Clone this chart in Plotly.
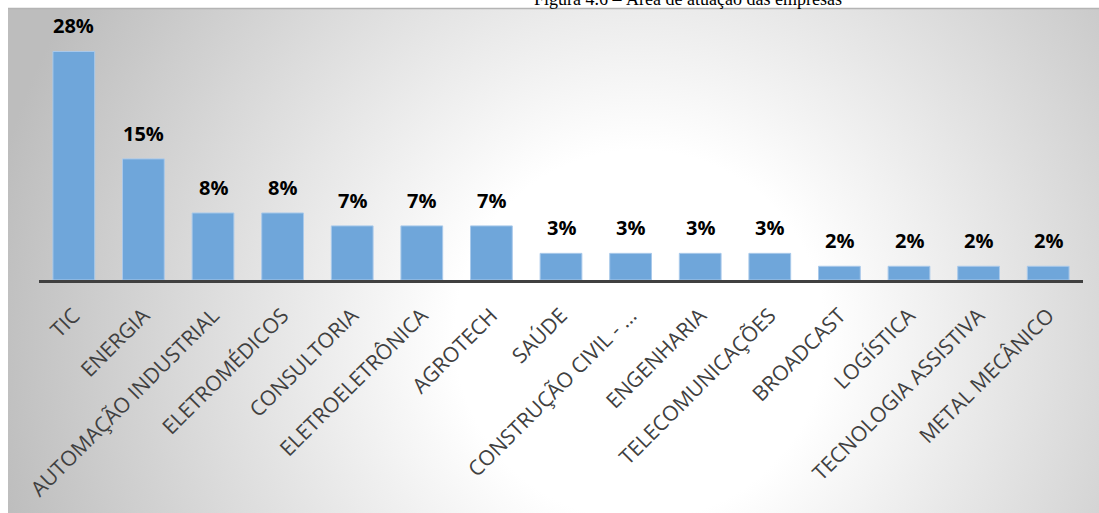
import base64
import plotly.graph_objects as go

# Business areas and share of companies (%)
areas = [
    "TIC", "ENERGIA", "AUTOMAÇÃO INDUSTRIAL", "ELETROMÉDICOS", "CONSULTORIA",
    "ELETROELETRÔNICA", "AGROTECH", "SAÚDE", "CONSTRUÇÃO CIVIL - ...",
    "ENGENHARIA", "TELECOMUNICAÇÕES", "BROADCAST", "LOGÍSTICA",
    "TECNOLOGIA ASSISTIVA", "METAL MECÂNICO",
]
share = [28.3, 15.0, 8.3, 8.3, 6.7, 6.7, 6.7, 3.3, 3.3, 3.3, 3.3, 1.7, 1.7, 1.7, 1.7]
title_text = "Figura 4.6 – Área de atuação das empresas"

W, H = 1099, 513
M_L, M_R, M_T, M_B = 39, 16, 20, 233
plot_w = W - M_L - M_R
plot_h = H - M_T - M_B
y_max = 32.2


def px_to_paper_x(px):
    return (px - M_L) / plot_w


def px_to_paper_y(py):
    return (H - M_B - py) / plot_h


# page backdrop: white page with a grey-to-white radial chart box from (8, 8)
box_x0, box_y0 = 8, 8
svg = f"""<svg xmlns='http://www.w3.org/2000/svg' width='{W}' height='{H}' viewBox='0 0 {W} {H}' preserveAspectRatio='none'>
<defs><radialGradient id='g' gradientUnits='userSpaceOnUse' cx='640' cy='335' r='660'>
<stop offset='0' stop-color='#ffffff'/>
<stop offset='0.28' stop-color='#ffffff'/>
<stop offset='1' stop-color='#bdbdbd'/>
</radialGradient></defs>
<rect x='0' y='0' width='{W}' height='{H}' fill='#ffffff'/>
<rect x='{box_x0}' y='{box_y0}' width='{W - box_x0}' height='{H - box_y0}' fill='url(#g)'/>
<line x1='{box_x0}' y1='{box_y0 + 0.5}' x2='{W}' y2='{box_y0 + 0.5}' stroke='#b4b4b4' stroke-width='1.5'/>
</svg>"""
bg_src = "data:image/svg+xml;base64," + base64.b64encode(svg.encode("utf-8")).decode("ascii")

fig = go.Figure()
fig.add_trace(go.Bar(
    x=areas,
    y=share,
    marker=dict(color="#6fa6da", line=dict(color="#a9c9ea", width=1)),
    width=0.6,
    hoverinfo="skip",
))

# value labels above bars
for a, v in zip(areas, share):
    fig.add_annotation(
        x=a, y=v, xref="x", yref="y",
        text=f"<b>{v:.0f}%</b>",
        showarrow=False, yanchor="bottom", yshift=10,
        font=dict(family="Open Sans", size=20, color="#000000"),
    )

# figure caption, partly outside the page top
fig.add_annotation(
    x=px_to_paper_x(688), y=px_to_paper_y(-2), xref="paper", yref="paper",
    text=title_text, showarrow=False, xanchor="center", yanchor="middle",
    font=dict(family="Liberation Serif", size=18, color="#000000"),
)

fig.add_layout_image(
    source=bg_src, xref="paper", yref="paper",
    x=px_to_paper_x(0), y=px_to_paper_y(0),
    sizex=W / plot_w, sizey=H / plot_h,
    xanchor="left", yanchor="top", sizing="stretch", layer="below",
)

fig.update_layout(
    width=W, height=H,
    margin=dict(l=M_L, r=M_R, t=M_T, b=M_B, autoexpand=False),
    paper_bgcolor="#ffffff",
    plot_bgcolor="rgba(0,0,0,0)",
    showlegend=False,
    xaxis=dict(
        type="category",
        range=[-0.5, len(areas) - 0.5],
        showline=True, linecolor="#404040", linewidth=3,
        ticks="", showgrid=False, zeroline=False, automargin=False,
        tickangle=-45, ticklabelstandoff=12,
        tickfont=dict(family="Open Sans", size=21, color="#404040"),
    ),
    yaxis=dict(
        range=[0, y_max], visible=False, showgrid=False, zeroline=False,
    ),
)

fig.write_html("out.html")
